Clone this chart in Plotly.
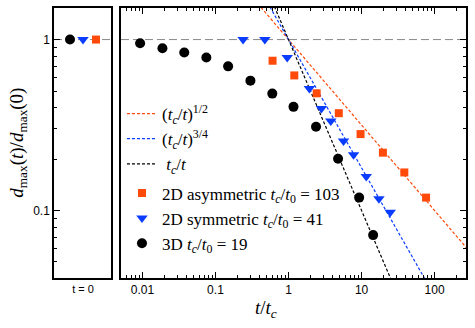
import numpy as np
import plotly.graph_objects as go

# ---- data ----
t0_categories = ["3D", "2D symmetric", "2D asymmetric"]
t0_values = [1.0, 1.0, 1.0]

x_3d = [0.0093, 0.0188, 0.0374, 0.075, 0.149, 0.301, 0.60, 1.17, 2.38, 4.77, 9.27, 14.4]
y_3d = [0.952, 0.89, 0.84, 0.785, 0.697, 0.575, 0.483, 0.404, 0.309, 0.201, 0.119, 0.0718]

x_2ds = [0.239, 0.474, 0.96, 1.93, 2.82, 3.79, 5.66, 7.77, 11.6, 17.3, 24.7]
y_2ds = [1.0, 1.0, 0.785, 0.517, 0.395, 0.334, 0.255, 0.212, 0.158, 0.117, 0.0977]

x_2da = [0.605, 1.20, 2.43, 4.88, 9.69, 19.6, 38.5, 76.4]
y_2da = [0.752, 0.617, 0.485, 0.371, 0.280, 0.218, 0.167, 0.119]

line_x = [0.1, 0.3, 1.0, 3.0, 10.0, 30.0, 100.0, 300.0]
exponents = [0.5, 0.75, 1.0]

xtick_vals = [0.01, 0.1, 1, 10, 100]
xtick_text = ["0.01", "0.1", "1", "10", "100"]
ytick_vals = [0.1, 1]
ytick_text = ["0.1", "1"]

ORANGE = "#ff4a0a"
BLUE = "#0a3cff"
BLACK = "#000000"

fig = go.Figure()

line_names = [
    "(<i>t<sub>c</sub></i>/<i>t</i>)<sup>1/2</sup>",
    "(<i>t<sub>c</sub></i>/<i>t</i>)<sup>3/4</sup>",
    " <i>t<sub>c</sub></i>/<i>t</i>",
]
for ex, col, nm in zip(exponents, [ORANGE, BLUE, BLACK], line_names):
    fig.add_trace(go.Scatter(
        x=line_x, y=[xx ** (-ex) for xx in line_x], mode="lines",
        line=dict(color=col, width=1.2, dash="3px,2px"),
        name=nm, xaxis="x2", yaxis="y2", legend="legend"))

fig.add_trace(go.Scatter(
    x=x_2da, y=y_2da, mode="markers",
    marker=dict(symbol="square", size=8, color=ORANGE),
    name="2D asymmetric <i>t<sub>c</sub></i>/<i>t</i><sub>0</sub> = 103",
    xaxis="x2", yaxis="y2", legend="legend2"))
fig.add_trace(go.Scatter(
    x=x_2ds, y=y_2ds, mode="markers",
    marker=dict(symbol="triangle-down", size=10, color=BLUE),
    name="2D symmetric <i>t<sub>c</sub></i>/<i>t</i><sub>0</sub> = 41",
    xaxis="x2", yaxis="y2", legend="legend2"))
fig.add_trace(go.Scatter(
    x=x_3d, y=y_3d, mode="markers",
    marker=dict(symbol="circle", size=10, color=BLACK),
    name="3D <i>t<sub>c</sub></i>/<i>t</i><sub>0</sub> = 19",
    xaxis="x2", yaxis="y2", legend="legend2"))

# t = 0 panel
for cat, val, sym, col, sz in zip(t0_categories, t0_values,
                                   ["circle", "triangle-down", "square"],
                                   [BLACK, BLUE, ORANGE], [10, 10, 8]):
    fig.add_trace(go.Scatter(
        x=[cat], y=[val], mode="markers",
        marker=dict(symbol=sym, size=sz, color=col),
        showlegend=False, xaxis="x", yaxis="y"))

# reference lines at 1
for xr, yref in [("x domain", "y"), ("x2 domain", "y2")]:
    fig.add_shape(type="line", xref=xr, yref=yref,
                  x0=0, x1=1, y0=1, y1=1,
                  line=dict(color="#888888", width=1, dash="8px,4px"), layer="below")

yr = [np.log10(0.0403), np.log10(1.53)]
axis_common = dict(showline=True, linecolor="black", linewidth=1.5, showgrid=False,
                   zeroline=False, ticks="inside", tickcolor="black")
legend_common = dict(xanchor="left", yanchor="middle", bgcolor="rgba(0,0,0,0)",
                     borderwidth=0, tracegroupgap=0, itemwidth=30,
                     font=dict(family="Liberation Serif", size=17, color="black"))

fig.update_layout(
    width=475, height=328,
    margin=dict(l=54, r=9, t=6, b=50),
    paper_bgcolor="white", plot_bgcolor="white",
    font=dict(family="Liberation Sans", size=12, color="black"),
    xaxis=dict(domain=[0, 0.1383], type="category", range=[-1.23, 3.15],
               showline=True, linecolor="black", linewidth=1.5, mirror=True,
               showgrid=False, zeroline=False, ticks="",
               tickvals=["2D symmetric"], ticktext=["t = 0"],
               tickfont=dict(size=11)),
    yaxis=dict(type="log", range=yr, mirror=True, side="left",
               tickvals=ytick_vals, ticktext=ytick_text, ticklen=6,
               minor=dict(ticks="inside", ticklen=3, tickcolor="black", dtick="D1"),
               **axis_common),
    xaxis2=dict(domain=[0.1626, 1], type="log",
                range=[np.log10(0.00509), np.log10(269)], mirror="ticks",
                tickvals=xtick_vals, ticktext=xtick_text, ticklen=6, anchor="y2",
                minor=dict(ticks="inside", ticklen=3, tickcolor="black", dtick="D1"),
                **axis_common),
    yaxis2=dict(type="log", range=yr, mirror=True, side="right", anchor="x2",
                showticklabels=False, tickvals=ytick_vals, ticklen=6,
                minor=dict(ticks="inside", ticklen=3, tickcolor="black", dtick="D1"),
                **axis_common),
    legend=dict(x=0.165, y=0.5147, **legend_common),
    legend2=dict(x=0.165, y=0.2206, **legend_common),
    annotations=[
        dict(text="<i>d</i><sub>max</sub>(<i>t</i>)/<i>d</i><sub>max</sub>(0)",
             xref="paper", yref="paper", x=-0.088, y=0.5, textangle=-90,
             showarrow=False, font=dict(family="Liberation Serif", size=19),
             xanchor="center", yanchor="middle"),
        dict(text="<i>t</i>/<i>t<sub>c</sub></i>",
             xref="paper", yref="paper", x=0.515, y=-0.115,
             showarrow=False, font=dict(family="Liberation Serif", size=19),
             xanchor="center", yanchor="middle"),
    ],
)

fig.write_html("out.html", config={"displayModeBar": False},
               post_script="document.body.style.margin='0';document.body.style.padding='0';")
